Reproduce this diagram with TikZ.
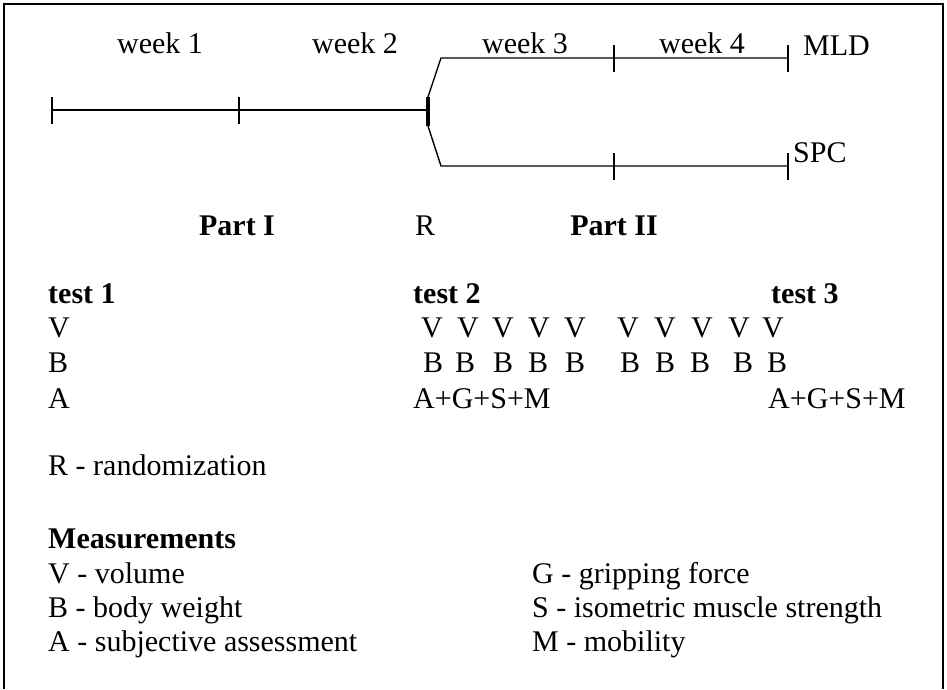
\documentclass[tikz,border=0pt]{standalone}
\usepackage{fontspec}
\setmainfont{Liberation Serif}
\usetikzlibrary{positioning}

\tikzset{
  txt/.style={font=\fontsize{30}{36}\selectfont, inner sep=0pt},
  bold/.style={font=\fontsize{30}{36}\selectfont\bfseries, inner sep=0pt},
  tline/.style={line width=1.4pt}
}

\begin{document}
\begin{tikzpicture}[x=1pt, y=-1pt]
    \useasboundingbox (0,0) rectangle (947,689);
    \draw[line width=1.6pt] (4,689) -- (4,4) -- (943,4) -- (943,689);
    % time line
    \coordinate (s) at (52,110); \coordinate (w1) at (239,110);
    \coordinate (r) at (428,110);
    \coordinate (rt) at (428,97); \coordinate (rb) at (428,126);
    \coordinate (mt) at (441,58); \coordinate (mm) at (614,58);
    \coordinate (me) at (788,58);
    \coordinate (st) at (441,166); \coordinate (sm) at (614,166);
    \coordinate (se) at (788,166);
    \draw[tline] (s) -- (r);
    \draw[line width=4pt] (rt) -- (rb);
    \draw[tline] (rt) -- (mt) -- (me);
    \draw[tline] (rb) -- (st) -- (se);
    \foreach \c in {s,w1,mm,me,sm,se}
      \draw[tline] ([yshift=13pt]\c) -- ([yshift=-14pt]\c);
    \node[txt, anchor=base] (wk1) at (160,53) {week 1};
    \node[txt, anchor=base] (wk2) at (355,53) {week 2};
    \node[txt, anchor=base] (wk3) at (525,53) {week 3};
    \node[txt, anchor=base] (wk4) at (702,53) {week 4};
    \node[txt, anchor=base west] (mld) at (803,55) {MLD};
    \node[txt, anchor=base west] (spc) at (793,162) {SPC};
    \node[bold, anchor=base] (p1) at (237,235) {Part I};
    \node[txt, anchor=base] (rr) at (425,235) {R};
    \node[bold, anchor=base] (p2) at (614,235) {Part II};
    % tests
    \node[bold, anchor=base west] (t1) at (48,303) {test 1};
    \node[bold, anchor=base west] (t2) at (413,303) {test 2};
    \node[bold, anchor=base west] (t3) at (771,303) {test 3};
    \node[txt, anchor=base west] (v0) at (48,337) {V};
    \node[txt, anchor=base west] (b0) at (48,372) {B};
    \node[txt, anchor=base west] (a0) at (48,408) {A};
    \foreach \x [count=\i] in {432,468,503,539,575,628,665,702,739,773}
      \node[txt, anchor=base] (v\i) at (\x,337) {V};
    \foreach \x [count=\i] in {433,465,503,538,575,630,665,700,743,777}
      \node[txt, anchor=base] (b\i) at (\x,372) {B};
    \node[txt, anchor=base west] (a2) at (413,408) {A+G+S+M};
    \node[txt, anchor=base west] (a3) at (768,408) {A+G+S+M};
    % legend
    \node[txt, anchor=base west] (rand) at (48,475) {R - randomization};
    \node[bold, anchor=base west] (meas) at (48,548) {Measurements};
    \node[txt, anchor=base west] (lv) at (48,583) {V - volume};
    \node[txt, anchor=base west] (lb) at (48,617) {B - body weight};
    \node[txt, anchor=base west] (la) at (48,651) {A - subjective assessment};
    \node[txt, anchor=base west] (lg) at (532,583) {G - gripping force};
    \node[txt, anchor=base west] (ls) at (532,617) {S - isometric muscle strength};
    \node[txt, anchor=base west] (lm) at (532,651) {M - mobility};
\end{tikzpicture}
\end{document}
